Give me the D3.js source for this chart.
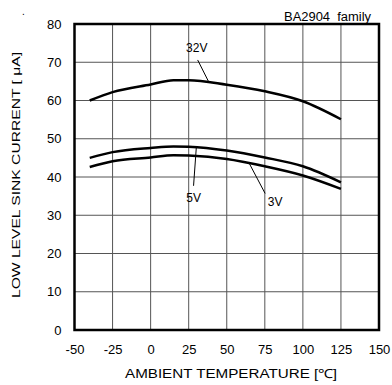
<!DOCTYPE html>
<html><head><meta charset="utf-8">
<script src="https://cdn.jsdelivr.net/npm/d3@7"></script>
<style>body{margin:0;background:#fff}text{font-family:"Liberation Sans",Arial,sans-serif;fill:#000}</style>
</head><body><svg id="c" width="392" height="385"></svg>
<script>
const temps = [-40, -25, 0, 15, 25, 50, 75, 100, 125];
const v32 = [60.0, 62.2, 64.2, 65.3, 65.3, 64.1, 62.4, 59.8, 55.1];
const v5  = [45.0, 46.5, 47.6, 48.0, 47.9, 46.9, 45.1, 42.8, 38.6];
const v3  = [42.6, 44.1, 45.1, 45.7, 45.6, 44.7, 42.8, 40.4, 36.9];
const xTicks = [-50, -25, 0, 25, 50, 75, 100, 125, 150];
const yTicks = [0, 10, 20, 30, 40, 50, 60, 70, 80];
const labels = ["32V", "5V", "3V"];
const labelAt = [[30.3, 72.7], [28.3, 33.5], [81.8, 32.4]];
const leaders = [[[30.9, 70.6], [38.1, 64.9]], [[28.2, 37.7], [30.0, 47.7]], [[75.2, 35.7], [65.0, 43.4]]];

const svg = d3.select("#c");
const x = d3.scaleLinear().domain([-50, 150]).range([74.5, 379]);
const y = d3.scaleLinear().domain([0, 80]).range([330, 24]);

// grid
svg.append("g").selectAll("line").data(xTicks.slice(1, -1)).join("line")
  .attr("x1", d => x(d)).attr("x2", d => x(d)).attr("y1", y(0)).attr("y2", y(80))
  .attr("stroke", "#555").attr("stroke-width", 1);
svg.append("g").selectAll("line").data(yTicks.slice(1, -1)).join("line")
  .attr("y1", d => y(d)).attr("y2", d => y(d)).attr("x1", x(-50)).attr("x2", x(150))
  .attr("stroke", "#555").attr("stroke-width", 1);

// axes labels via d3 axes
const fmt = d => String(d);
const xa = svg.append("g").attr("transform", `translate(0,${y(0)})`)
  .call(d3.axisBottom(x).tickValues(xTicks).tickFormat(fmt).tickSize(0).tickPadding(15));
const ya = svg.append("g").attr("transform", `translate(${x(-50)},0)`)
  .call(d3.axisLeft(y).tickValues(yTicks).tickFormat(fmt).tickSize(0).tickPadding(13));
[xa, ya].forEach(a => { a.select(".domain").remove(); a.selectAll("text").attr("font-size", 13).attr("font-family", '"Liberation Sans",Arial,sans-serif').attr("fill", "#000"); });

// frame
svg.append("rect").attr("x", x(-50)).attr("y", y(80)).attr("width", x(150) - x(-50)).attr("height", y(0) - y(80))
  .attr("fill", "none").attr("stroke", "#000").attr("stroke-width", 2.5);

// curves
const line = d3.line().x((d, i) => x(temps[i])).y(d => y(d)).curve(d3.curveMonotoneX);
[v32, v5, v3].forEach(s => svg.append("path").attr("d", line(s)).attr("fill", "none").attr("stroke", "#000").attr("stroke-width", 2.5));

// annotations
labels.forEach((t, i) => {
  svg.append("line").attr("x1", x(leaders[i][0][0])).attr("y1", y(leaders[i][0][1]))
    .attr("x2", x(leaders[i][1][0])).attr("y2", y(leaders[i][1][1])).attr("stroke", "#000").attr("stroke-width", 1);
  svg.append("text").attr("x", x(labelAt[i][0])).attr("y", y(labelAt[i][1])).attr("text-anchor", "middle")
    .attr("font-size", 12).text(t);
});

// titles
svg.append("text").attr("x", 371).attr("y", 21).attr("text-anchor", "end").attr("font-size", 12)
  .style("white-space", "pre").attr("xml:space", "preserve")
  .attr("textLength", 87).attr("lengthAdjust", "spacingAndGlyphs").text("BA2904  family");
svg.append("text").attr("x", 22).attr("y", 15).attr("font-size", 10).text(".");
svg.append("text").attr("x", 231).attr("y", 378).attr("text-anchor", "middle").attr("font-size", 12.5)
  .attr("textLength", 212).attr("lengthAdjust", "spacingAndGlyphs").text("AMBIENT TEMPERATURE [℃]");
svg.append("text").attr("transform", "translate(20,175) rotate(-90)").attr("text-anchor", "middle").attr("font-size", 11.5)
  .attr("textLength", 246).attr("lengthAdjust", "spacingAndGlyphs").text("LOW LEVEL SINK CURRENT [ μA]");
</script></body></html>
